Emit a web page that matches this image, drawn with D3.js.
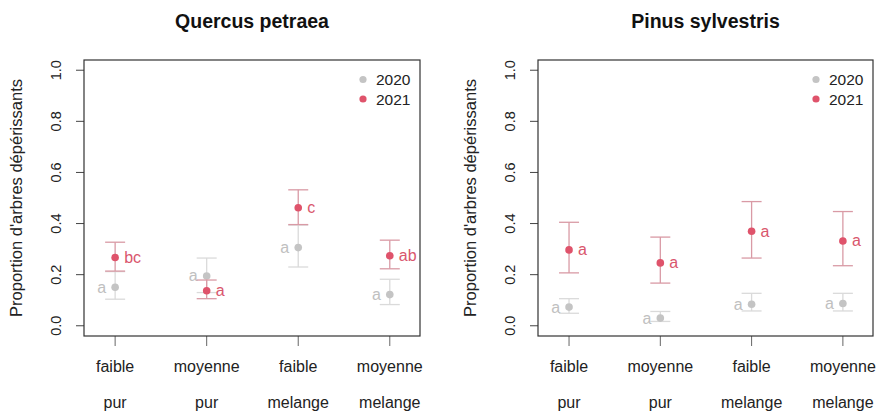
<!DOCTYPE html>
<html>
<head>
<meta charset="utf-8">
<script src="https://cdn.jsdelivr.net/npm/d3@7"></script>
<style>
  body { margin: 0; background: #fff; }
  svg { font-family: "Liberation Sans", Arial, sans-serif; }
</style>
</head>
<body>
<svg id="chart" width="877" height="412"></svg>
<script>
// categories (two-line x labels)
const densite = ["faible", "moyenne", "faible", "moyenne"];
const melange = ["pur", "pur", "melange", "melange"];
const years = ["2020", "2021"];

// Quercus petraea
const quercus2020 = [0.151, 0.195, 0.306, 0.122];
const quercus2020Lo = [0.104, 0.130, 0.230, 0.083];
const quercus2020Hi = [0.212, 0.265, 0.394, 0.182];
const quercus2021 = [0.267, 0.137, 0.462, 0.274];
const quercus2021Lo = [0.214, 0.106, 0.396, 0.223];
const quercus2021Hi = [0.327, 0.179, 0.532, 0.335];
const quercusLet2020 = ["a", "a", "a", "a"];
const quercusLet2021 = ["bc", "a", "c", "ab"];

// Pinus sylvestris
const pinus2020 = [0.073, 0.030, 0.084, 0.087];
const pinus2020Lo = [0.049, 0.017, 0.058, 0.058];
const pinus2020Hi = [0.106, 0.056, 0.127, 0.127];
const pinus2021 = [0.297, 0.246, 0.370, 0.332];
const pinus2021Lo = [0.207, 0.167, 0.265, 0.235];
const pinus2021Hi = [0.405, 0.347, 0.486, 0.447];
const pinusLet2020 = ["a", "a", "a", "a"];
const pinusLet2021 = ["a", "a", "a", "a"];

const yTicks = [0, 0.2, 0.4, 0.6, 0.8, 1.0];

const colors = {
  "2020": { pt: "#c4c4c4", bar: "#dadada", txt: "#c0c0c0" },
  "2021": { pt: "#df536b", bar: "#d99aa5", txt: "#d9566d" }
};

const panels = [
  {
    title: "Quercus petraea", left: 84, right: 420,
    series: [
      { year: "2020", v: quercus2020, lo: quercus2020Lo, hi: quercus2020Hi, let: quercusLet2020 },
      { year: "2021", v: quercus2021, lo: quercus2021Lo, hi: quercus2021Hi, let: quercusLet2021 }
    ]
  },
  {
    title: "Pinus sylvestris", left: 538, right: 873,
    series: [
      { year: "2020", v: pinus2020, lo: pinus2020Lo, hi: pinus2020Hi, let: pinusLet2020 },
      { year: "2021", v: pinus2021, lo: pinus2021Lo, hi: pinus2021Hi, let: pinusLet2021 }
    ]
  }
];

const svg = d3.select("#chart");
const plotTop = 60, plotBottom = 336;

const y = d3.scaleLinear().domain([-0.04, 1.04]).range([plotBottom, plotTop]);

panels.forEach(p => {
  const g = svg.append("g");
  const x = d3.scaleLinear().domain([0.66, 4.33]).range([p.left, p.right]);
  const cx = (p.left + p.right) / 2;

  g.append("text")
    .attr("x", cx).attr("y", 28)
    .attr("text-anchor", "middle")
    .attr("font-size", 19.5).attr("font-weight", "bold")
    .attr("fill", "#111")
    .text(p.title);

  // y axis
  const yAxis = g.append("g");
  yTicks.forEach(t => {
    yAxis.append("line")
      .attr("x1", p.left - 8).attr("x2", p.left)
      .attr("y1", y(t)).attr("y2", y(t))
      .attr("stroke", "#444");
    yAxis.append("text")
      .attr("transform", `translate(${p.left - 23},${y(t)}) rotate(-90)`)
      .attr("text-anchor", "middle")
      .attr("font-size", 14.5).attr("fill", "#222")
      .text(t.toFixed(1));
  });
  yAxis.append("text")
    .attr("transform", `translate(${p.left - 62},${(plotTop + plotBottom) / 2}) rotate(-90)`)
    .attr("text-anchor", "middle")
    .attr("font-size", 16.5).attr("fill", "#222")
    .text("Proportion d'arbres dépérissants");

  // x axis
  densite.forEach((d, i) => {
    const xi = x(i + 1);
    g.append("line")
      .attr("x1", xi).attr("x2", xi)
      .attr("y1", plotBottom).attr("y2", plotBottom + 10)
      .attr("stroke", "#666");
    g.append("text")
      .attr("x", xi).attr("y", 372)
      .attr("text-anchor", "middle")
      .attr("font-size", 16).attr("fill", "#222")
      .text(d);
    g.append("text")
      .attr("x", xi).attr("y", 408)
      .attr("text-anchor", "middle")
      .attr("font-size", 16).attr("fill", "#222")
      .text(melange[i]);
  });

  // error bars, points and letters
  p.series.forEach(s => {
    const c = colors[s.year];
    const bars = g.append("g");
    s.v.forEach((v, i) => {
      const xi = x(i + 1);
      bars.append("line")
        .attr("x1", xi).attr("x2", xi)
        .attr("y1", y(s.lo[i])).attr("y2", y(s.hi[i]))
        .attr("stroke", c.bar).attr("stroke-width", 1.3);
      [s.lo[i], s.hi[i]].forEach(e => {
        bars.append("line")
          .attr("x1", xi - 10).attr("x2", xi + 10)
          .attr("y1", y(e)).attr("y2", y(e))
          .attr("stroke", c.bar).attr("stroke-width", 1.3);
      });
    });
    g.append("g").selectAll("circle")
      .data(s.v)
      .join("circle")
      .attr("cx", (d, i) => x(i + 1))
      .attr("cy", d => y(d))
      .attr("r", 3.8)
      .attr("fill", c.pt);
    g.append("g").selectAll("text")
      .data(s.let)
      .join("text")
      .attr("x", (d, i) => s.year === "2020" ? x(i + 1) - 9 : x(i + 1) + 9)
      .attr("y", (d, i) => y(s.v[i]) + 5.5)
      .attr("text-anchor", s.year === "2020" ? "end" : "start")
      .attr("font-size", 16)
      .attr("fill", c.txt)
      .text(d => d);
  });

  // legend
  const lg = g.append("g");
  years.forEach((yr, k) => {
    const ly = 79.5 + k * 19.5;
    lg.append("circle")
      .attr("cx", p.right - 57).attr("cy", ly).attr("r", 3.6)
      .attr("fill", colors[yr].pt);
    lg.append("text")
      .attr("x", p.right - 44).attr("y", ly + 5.5)
      .attr("font-size", 15.5).attr("fill", "#222")
      .text(yr);
  });

  // box
  g.append("rect")
    .attr("x", p.left).attr("y", plotTop)
    .attr("width", p.right - p.left).attr("height", plotBottom - plotTop)
    .attr("fill", "none").attr("stroke", "#333").attr("stroke-width", 1.2);
});
</script>
</body>
</html>
